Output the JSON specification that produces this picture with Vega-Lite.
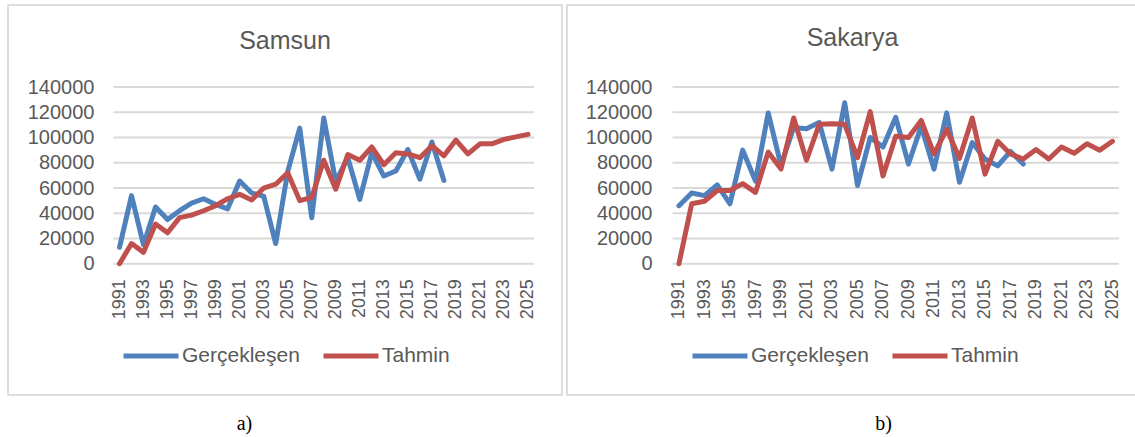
{
  "$schema": "https://vega.github.io/schema/vega-lite/v6.json",
  "padding": {"left": 7, "top": 4, "right": 0, "bottom": 0},
  "background": "white",
  "spacing": 3,
  "config": {
    "font": "Liberation Sans",
    "view": {"stroke": "#d4d4d4", "strokeWidth": 1.5},
    "axis": {"domain": false, "ticks": false, "tickSize": 0, "grid": false, "labelColor": "#595959", "labelFont": "Liberation Sans", "labelOverlap": false, "labelFlush": false},
    "axisX": {"labelOverlap": false},
    "legend": {"symbolType": "stroke", "symbolSize": 3025, "symbolStrokeWidth": 5, "labelFontSize": 21, "labelColor": "#595959", "labelOffset": 1, "columnPadding": 13, "padding": 0, "title": null, "direction": "horizontal", "orient": "none"}
  },
  "datasets": {
    "grid": [{"v": 0}, {"v": 20000}, {"v": 40000}, {"v": 60000}, {"v": 80000}, {"v": 100000}, {"v": 120000}, {"v": 140000}],
    "samsun": [
      {"year": 1991, "series": "Gerçekleşen", "value": 13000},
      {"year": 1992, "series": "Gerçekleşen", "value": 54000},
      {"year": 1993, "series": "Gerçekleşen", "value": 15000},
      {"year": 1994, "series": "Gerçekleşen", "value": 45000},
      {"year": 1995, "series": "Gerçekleşen", "value": 35000},
      {"year": 1996, "series": "Gerçekleşen", "value": 42000},
      {"year": 1997, "series": "Gerçekleşen", "value": 48000},
      {"year": 1998, "series": "Gerçekleşen", "value": 51500},
      {"year": 1999, "series": "Gerçekleşen", "value": 47000},
      {"year": 2000, "series": "Gerçekleşen", "value": 43500},
      {"year": 2001, "series": "Gerçekleşen", "value": 65500},
      {"year": 2002, "series": "Gerçekleşen", "value": 56000},
      {"year": 2003, "series": "Gerçekleşen", "value": 53500},
      {"year": 2004, "series": "Gerçekleşen", "value": 16000},
      {"year": 2005, "series": "Gerçekleşen", "value": 73000},
      {"year": 2006, "series": "Gerçekleşen", "value": 107500},
      {"year": 2007, "series": "Gerçekleşen", "value": 36500},
      {"year": 2008, "series": "Gerçekleşen", "value": 115500},
      {"year": 2009, "series": "Gerçekleşen", "value": 65000},
      {"year": 2010, "series": "Gerçekleşen", "value": 84000},
      {"year": 2011, "series": "Gerçekleşen", "value": 51000},
      {"year": 2012, "series": "Gerçekleşen", "value": 88000},
      {"year": 2013, "series": "Gerçekleşen", "value": 69500},
      {"year": 2014, "series": "Gerçekleşen", "value": 73500},
      {"year": 2015, "series": "Gerçekleşen", "value": 90500},
      {"year": 2016, "series": "Gerçekleşen", "value": 67000},
      {"year": 2017, "series": "Gerçekleşen", "value": 96500},
      {"year": 2018, "series": "Gerçekleşen", "value": 66000},
      {"year": 1991, "series": "Tahmin", "value": 0},
      {"year": 1992, "series": "Tahmin", "value": 16000},
      {"year": 1993, "series": "Tahmin", "value": 9000},
      {"year": 1994, "series": "Tahmin", "value": 31500},
      {"year": 1995, "series": "Tahmin", "value": 24500},
      {"year": 1996, "series": "Tahmin", "value": 36500},
      {"year": 1997, "series": "Tahmin", "value": 38500},
      {"year": 1998, "series": "Tahmin", "value": 42000},
      {"year": 1999, "series": "Tahmin", "value": 46000},
      {"year": 2000, "series": "Tahmin", "value": 51500},
      {"year": 2001, "series": "Tahmin", "value": 55000},
      {"year": 2002, "series": "Tahmin", "value": 50500},
      {"year": 2003, "series": "Tahmin", "value": 60000},
      {"year": 2004, "series": "Tahmin", "value": 63000},
      {"year": 2005, "series": "Tahmin", "value": 72000},
      {"year": 2006, "series": "Tahmin", "value": 50000},
      {"year": 2007, "series": "Tahmin", "value": 52500},
      {"year": 2008, "series": "Tahmin", "value": 82000},
      {"year": 2009, "series": "Tahmin", "value": 59000},
      {"year": 2010, "series": "Tahmin", "value": 86500},
      {"year": 2011, "series": "Tahmin", "value": 82000},
      {"year": 2012, "series": "Tahmin", "value": 92500},
      {"year": 2013, "series": "Tahmin", "value": 78500},
      {"year": 2014, "series": "Tahmin", "value": 88000},
      {"year": 2015, "series": "Tahmin", "value": 87000},
      {"year": 2016, "series": "Tahmin", "value": 84000},
      {"year": 2017, "series": "Tahmin", "value": 93500},
      {"year": 2018, "series": "Tahmin", "value": 85500},
      {"year": 2019, "series": "Tahmin", "value": 98000},
      {"year": 2020, "series": "Tahmin", "value": 87000},
      {"year": 2021, "series": "Tahmin", "value": 95000},
      {"year": 2022, "series": "Tahmin", "value": 95000},
      {"year": 2023, "series": "Tahmin", "value": 98500},
      {"year": 2024, "series": "Tahmin", "value": 100500},
      {"year": 2025, "series": "Tahmin", "value": 102500}
    ],
    "sakarya": [
      {"year": 1991, "series": "Gerçekleşen", "value": 46000},
      {"year": 1992, "series": "Gerçekleşen", "value": 56000},
      {"year": 1993, "series": "Gerçekleşen", "value": 54000},
      {"year": 1994, "series": "Gerçekleşen", "value": 62500},
      {"year": 1995, "series": "Gerçekleşen", "value": 47500},
      {"year": 1996, "series": "Gerçekleşen", "value": 90000},
      {"year": 1997, "series": "Gerçekleşen", "value": 65500},
      {"year": 1998, "series": "Gerçekleşen", "value": 119500},
      {"year": 1999, "series": "Gerçekleşen", "value": 78000},
      {"year": 2000, "series": "Gerçekleşen", "value": 108000},
      {"year": 2001, "series": "Gerçekleşen", "value": 107000},
      {"year": 2002, "series": "Gerçekleşen", "value": 112000},
      {"year": 2003, "series": "Gerçekleşen", "value": 75000},
      {"year": 2004, "series": "Gerçekleşen", "value": 127500},
      {"year": 2005, "series": "Gerçekleşen", "value": 62000},
      {"year": 2006, "series": "Gerçekleşen", "value": 100000},
      {"year": 2007, "series": "Gerçekleşen", "value": 92500},
      {"year": 2008, "series": "Gerçekleşen", "value": 116000},
      {"year": 2009, "series": "Gerçekleşen", "value": 79000},
      {"year": 2010, "series": "Gerçekleşen", "value": 109000},
      {"year": 2011, "series": "Gerçekleşen", "value": 75000},
      {"year": 2012, "series": "Gerçekleşen", "value": 119500},
      {"year": 2013, "series": "Gerçekleşen", "value": 64500},
      {"year": 2014, "series": "Gerçekleşen", "value": 96000},
      {"year": 2015, "series": "Gerçekleşen", "value": 83000},
      {"year": 2016, "series": "Gerçekleşen", "value": 77500},
      {"year": 2017, "series": "Gerçekleşen", "value": 89000},
      {"year": 2018, "series": "Gerçekleşen", "value": 79000},
      {"year": 1991, "series": "Tahmin", "value": 0},
      {"year": 1992, "series": "Tahmin", "value": 47500},
      {"year": 1993, "series": "Tahmin", "value": 49500},
      {"year": 1994, "series": "Tahmin", "value": 58000},
      {"year": 1995, "series": "Tahmin", "value": 58000},
      {"year": 1996, "series": "Tahmin", "value": 63500},
      {"year": 1997, "series": "Tahmin", "value": 56500},
      {"year": 1998, "series": "Tahmin", "value": 88500},
      {"year": 1999, "series": "Tahmin", "value": 75000},
      {"year": 2000, "series": "Tahmin", "value": 115500},
      {"year": 2001, "series": "Tahmin", "value": 82000},
      {"year": 2002, "series": "Tahmin", "value": 110500},
      {"year": 2003, "series": "Tahmin", "value": 111000},
      {"year": 2004, "series": "Tahmin", "value": 110500},
      {"year": 2005, "series": "Tahmin", "value": 84000},
      {"year": 2006, "series": "Tahmin", "value": 120500},
      {"year": 2007, "series": "Tahmin", "value": 69500},
      {"year": 2008, "series": "Tahmin", "value": 101000},
      {"year": 2009, "series": "Tahmin", "value": 100000},
      {"year": 2010, "series": "Tahmin", "value": 113500},
      {"year": 2011, "series": "Tahmin", "value": 87000},
      {"year": 2012, "series": "Tahmin", "value": 106500},
      {"year": 2013, "series": "Tahmin", "value": 83500},
      {"year": 2014, "series": "Tahmin", "value": 115500},
      {"year": 2015, "series": "Tahmin", "value": 71000},
      {"year": 2016, "series": "Tahmin", "value": 97000},
      {"year": 2017, "series": "Tahmin", "value": 87000},
      {"year": 2018, "series": "Tahmin", "value": 83000},
      {"year": 2019, "series": "Tahmin", "value": 90500},
      {"year": 2020, "series": "Tahmin", "value": 83000},
      {"year": 2021, "series": "Tahmin", "value": 92500},
      {"year": 2022, "series": "Tahmin", "value": 87500},
      {"year": 2023, "series": "Tahmin", "value": 95000},
      {"year": 2024, "series": "Tahmin", "value": 90000},
      {"year": 2025, "series": "Tahmin", "value": 97000}
    ]
  },
  "resolve": {"legend": {"color": "independent"}, "scale": {"x": "independent", "y": "independent", "color": "independent"}},
  "hconcat": [
    {
      "width": 554,
      "height": 390,
      "title": {"text": "Samsun", "offset": -69, "baseline": "alphabetic", "frame": "group", "anchor": "middle", "fontSize": 25, "fontWeight": "normal", "color": "#595959", "font": "Liberation Sans"},
      "layer": [
        {
          "data": {"name": "grid"},
          "mark": {"type": "rule", "color": "#d9d9d9", "strokeWidth": 2},
          "encoding": {
            "y": {"field": "v", "type": "quantitative", "scale": {"domain": [-104000, 205000], "nice": false, "zero": false},
                  "axis": {"values": [0, 20000, 40000, 60000, 80000, 100000, 120000, 140000], "offset": -86, "labelPadding": 0, "labelFontSize": 20, "title": null, "format": "d"}},
            "x": {"datum": 1990.5, "type": "quantitative", "scale": {"domain": [1981.72, 2027.83], "nice": false, "zero": false},
                  "axis": {"values": [1991, 1993, 1995, 1997, 1999, 2001, 2003, 2005, 2007, 2009, 2011, 2013, 2015, 2017, 2019, 2021, 2023, 2025], "format": "d", "labelAngle": -90, "labelFontSize": 18, "labelPadding": 15, "offset": -131.3, "labelOverlap": false, "labelFlush": false, "title": "a)", "titleX": 236, "titleY": 160, "titleBaseline": "middle", "titleAlign": "center", "titleFont": "Liberation Serif", "titleFontSize": 20, "titleFontWeight": "normal", "titleColor": "#000000"}},
            "x2": {"datum": 2025.5}
          }
        },
        {
          "data": {"name": "samsun"},
          "mark": {"type": "line", "strokeWidth": 5, "strokeCap": "round", "strokeJoin": "round"},
          "encoding": {
            "x": {"field": "year", "type": "quantitative",
                  "axis": {"values": [1991, 1993, 1995, 1997, 1999, 2001, 2003, 2005, 2007, 2009, 2011, 2013, 2015, 2017, 2019, 2021, 2023, 2025], "format": "d", "labelAngle": -90, "labelFontSize": 18, "labelPadding": 15, "offset": -131.3, "labelOverlap": false, "labelFlush": false, "title": "a)", "titleX": 236, "titleY": 160, "titleBaseline": "middle", "titleAlign": "center", "titleFont": "Liberation Serif", "titleFontSize": 20, "titleFontWeight": "normal", "titleColor": "#000000"}},
            "y": {"field": "value", "type": "quantitative",
                  "axis": {"values": [0, 20000, 40000, 60000, 80000, 100000, 120000, 140000], "offset": -86, "labelPadding": 0, "labelFontSize": 20, "title": null, "format": "d"}},
            "color": {"field": "series", "type": "nominal",
                      "scale": {"domain": ["Gerçekleşen", "Tahmin"], "range": ["#4F81BD", "#C0504D"]},
                      "legend": {"legendX": 113, "legendY": 321}}
          }
        }
      ]
    },
    {
      "width": 571,
      "height": 390,
      "title": {"text": "Sakarya", "offset": -66, "baseline": "alphabetic", "frame": "group", "anchor": "middle", "fontSize": 25, "fontWeight": "normal", "color": "#595959", "font": "Liberation Sans"},
      "layer": [
        {
          "data": {"name": "grid"},
          "mark": {"type": "rule", "color": "#d9d9d9", "strokeWidth": 2},
          "encoding": {
            "y": {"field": "v", "type": "quantitative", "scale": {"domain": [-104000, 205000], "nice": false, "zero": false},
                  "axis": {"values": [0, 20000, 40000, 60000, 80000, 100000, 120000, 140000], "offset": -85, "labelPadding": 0, "labelFontSize": 20, "title": null, "format": "d"}},
            "x": {"datum": 1990.5, "type": "quantitative", "scale": {"domain": [1982.22, 2027.0], "nice": false, "zero": false},
                  "axis": {"values": [1991, 1993, 1995, 1997, 1999, 2001, 2003, 2005, 2007, 2009, 2011, 2013, 2015, 2017, 2019, 2021, 2023, 2025], "format": "d", "labelAngle": -90, "labelFontSize": 18, "labelPadding": 15, "offset": -131.3, "labelOverlap": false, "labelFlush": false, "title": "b)", "titleX": 316, "titleY": 160, "titleBaseline": "middle", "titleAlign": "center", "titleFont": "Liberation Serif", "titleFontSize": 20, "titleFontWeight": "normal", "titleColor": "#000000"}},
            "x2": {"datum": 2025.5}
          }
        },
        {
          "data": {"name": "sakarya"},
          "mark": {"type": "line", "strokeWidth": 5, "strokeCap": "round", "strokeJoin": "round"},
          "encoding": {
            "x": {"field": "year", "type": "quantitative",
                  "axis": {"values": [1991, 1993, 1995, 1997, 1999, 2001, 2003, 2005, 2007, 2009, 2011, 2013, 2015, 2017, 2019, 2021, 2023, 2025], "format": "d", "labelAngle": -90, "labelFontSize": 18, "labelPadding": 15, "offset": -131.3, "labelOverlap": false, "labelFlush": false, "title": "b)", "titleX": 316, "titleY": 160, "titleBaseline": "middle", "titleAlign": "center", "titleFont": "Liberation Serif", "titleFontSize": 20, "titleFontWeight": "normal", "titleColor": "#000000"}},
            "y": {"field": "value", "type": "quantitative",
                  "axis": {"values": [0, 20000, 40000, 60000, 80000, 100000, 120000, 140000], "offset": -85, "labelPadding": 0, "labelFontSize": 20, "title": null, "format": "d"}},
            "color": {"field": "series", "type": "nominal",
                      "scale": {"domain": ["Gerçekleşen", "Tahmin"], "range": ["#4F81BD", "#C0504D"]},
                      "legend": {"legendX": 123, "legendY": 321}}
          }
        }
      ]
    }
  ]
}
